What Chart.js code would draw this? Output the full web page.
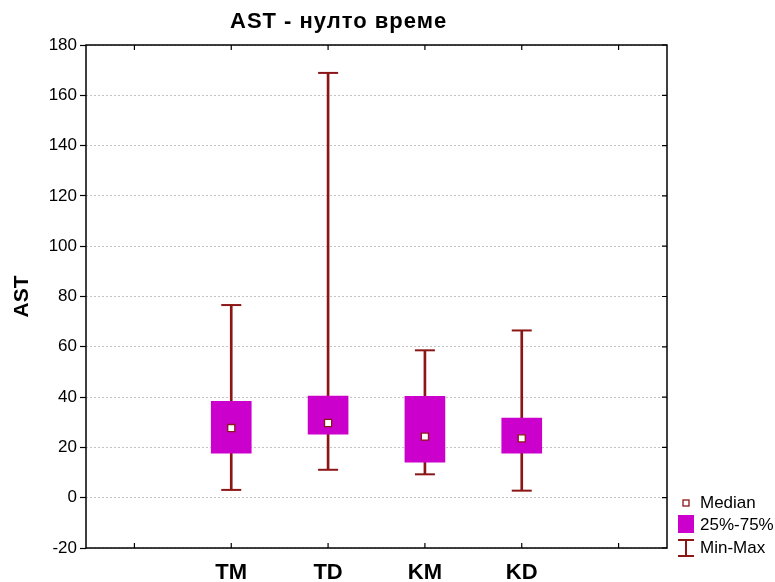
<!DOCTYPE html>
<html>
<head>
<meta charset="utf-8">
<script src="https://cdn.jsdelivr.net/npm/chart.js@4/dist/chart.umd.min.js"></script>
<style>
  html, body { margin: 0; padding: 0; background: #fff; }
  #wrap { width: 775px; height: 582px; }
</style>
</head>
<body>
<div id="wrap"><canvas id="grafico"></canvas></div>
<script>
// ===============================
// DATA
// ===============================

const categorias = ["TM", "TD", "KM", "KD"];
const minimos = [3.1, 11.1, 9.3, 2.8];
const cuartil1 = [17.7, 25.3, 14.1, 17.7];
const medianas = [27.7, 29.7, 24.3, 23.6];
const cuartil3 = [38.3, 40.4, 40.3, 31.7];
const maximos = [76.6, 168.9, 58.6, 66.5];
const ticksY = [-20, 0, 20, 40, 60, 80, 100, 120, 140, 160, 180];

const titulo = "AST - нулто време";
const leyenda = ["Median", "25%-75%", "Min-Max"];

// ===============================
// COLORS / HELPERS
// ===============================

const rojo = "#8c1616";
const magenta = "#cc00cc";
const fuente = "'Liberation Sans', Arial, sans-serif";

// one empty slot at each end, like the original axis
const ranuras = [""].concat(categorias, [""]);
function rellenar(arr) {
  return [null].concat(arr, [null]);
}

const rangoMinMax = rellenar(minimos.map(function (v, i) { return [v, maximos[i]]; }));
const rangoCaja = rellenar(cuartil1.map(function (v, i) { return [v, cuartil3[i]]; }));

// ===============================
// PLUGIN: title, frame, inner ticks, legend
// ===============================

const marco = {
  id: "marco",
  afterDraw(chart) {
    const ctx = chart.ctx;
    const a = chart.chartArea;
    const x = chart.scales.x;
    const y = chart.scales.y;

    ctx.save();

    // title
    ctx.fillStyle = "#000";
    ctx.font = "bold 22px " + fuente;
    ctx.letterSpacing = "1px";
    ctx.textAlign = "left";
    ctx.textBaseline = "alphabetic";
    ctx.fillText(titulo, 230, 28);
    ctx.letterSpacing = "0px";

    // frame
    ctx.strokeStyle = "#000";
    ctx.lineWidth = 1.5;
    ctx.strokeRect(a.left, a.top, a.right - a.left, a.bottom - a.top);

    // inward ticks top/bottom
    ctx.lineWidth = 1.2;
    ctx.beginPath();
    x.ticks.forEach(function (t, i) {
      const px = x.getPixelForTick(i);
      ctx.moveTo(px, a.bottom);
      ctx.lineTo(px, a.bottom - 5);
      ctx.moveTo(px, a.top);
      ctx.lineTo(px, a.top + 5);
    });
    // inward ticks right
    ticksY.forEach(function (v) {
      const py = y.getPixelForValue(v);
      ctx.moveTo(a.right, py);
      ctx.lineTo(a.right - 5, py);
    });
    ctx.stroke();

    // legend
    const lx = a.right + 11;
    ctx.font = "17px " + fuente;
    ctx.textBaseline = "middle";

    // median
    ctx.fillStyle = "#fff";
    ctx.fillRect(lx + 5, 500, 6, 6);
    ctx.strokeStyle = rojo;
    ctx.lineWidth = 1.3;
    ctx.strokeRect(lx + 5, 500, 6, 6);
    ctx.fillStyle = "#000";
    ctx.fillText(leyenda[0], lx + 22, 503);

    // box
    ctx.fillStyle = magenta;
    ctx.fillRect(lx, 515, 16, 18);
    ctx.fillStyle = "#000";
    ctx.fillText(leyenda[1], lx + 22, 525);

    // min-max
    ctx.strokeStyle = rojo;
    ctx.lineWidth = 2;
    ctx.beginPath();
    ctx.moveTo(lx, 540); ctx.lineTo(lx + 16, 540);
    ctx.moveTo(lx + 8, 540); ctx.lineTo(lx + 8, 556);
    ctx.moveTo(lx, 556); ctx.lineTo(lx + 16, 556);
    ctx.stroke();
    ctx.fillText(leyenda[2], lx + 22, 548);

    ctx.restore();
  }
};

// ===============================
// CHART
// ===============================

const ctx = document.getElementById("grafico").getContext("2d");

new Chart(ctx, {
  data: {
    labels: ranuras,
    datasets: [
      {
        type: "bar",
        label: "Min-Max",
        data: rangoMinMax,
        backgroundColor: rojo,
        barThickness: 2,
        grouped: false,
        order: 4
      },
      {
        type: "bar",
        label: "25%-75%",
        data: rangoCaja,
        backgroundColor: magenta,
        barThickness: 40,
        grouped: false,
        order: 3
      },
      {
        type: "line",
        label: "Max",
        data: rellenar(maximos),
        showLine: false,
        pointStyle: "line",
        pointRadius: 10,
        borderColor: rojo,
        borderWidth: 2,
        order: 2
      },
      {
        type: "line",
        label: "Min",
        data: rellenar(minimos),
        showLine: false,
        pointStyle: "line",
        pointRadius: 10,
        borderColor: rojo,
        borderWidth: 2,
        order: 2
      },
      {
        type: "line",
        label: "Median",
        data: rellenar(medianas),
        showLine: false,
        pointStyle: "rect",
        pointRadius: 5,
        backgroundColor: "#fff",
        borderColor: rojo,
        borderWidth: 1.3,
        order: 1
      }
    ]
  },
  options: {
    responsive: true,
    maintainAspectRatio: false,
    animation: false,
    layout: {
      padding: { top: 45, right: 108, left: 0, bottom: 0 }
    },
    plugins: {
      legend: { display: false },
      title: { display: false },
      tooltip: { enabled: false }
    },
    scales: {
      x: {
        type: "category",
        offset: true,
        grid: { display: false },
        border: { display: false },
        ticks: {
          color: "#000",
          padding: 4,
          font: { family: fuente, size: 22, weight: "bold" }
        },
        afterFit(scale) { scale.height = 34; }
      },
      y: {
        min: -20,
        max: 180,
        afterBuildTicks(scale) {
          scale.ticks = ticksY.map(function (v) { return { value: v }; });
        },
        grid: {
          color: "#c4c4c4",
          lineWidth: 1,
          tickColor: "#000",
          tickLength: 6,
          tickWidth: 1.2
        },
        border: { display: false, dash: [2, 2] },
        ticks: {
          color: "#000",
          padding: 3,
          font: { family: fuente, size: 17 }
        },
        title: {
          display: true,
          text: "AST",
          color: "#000",
          padding: { top: 10, bottom: 0 },
          font: { family: fuente, size: 21, weight: "bold" }
        },
        afterFit(scale) { scale.width = 86; }
      }
    }
  },
  plugins: [marco]
});
</script>
</body>
</html>
